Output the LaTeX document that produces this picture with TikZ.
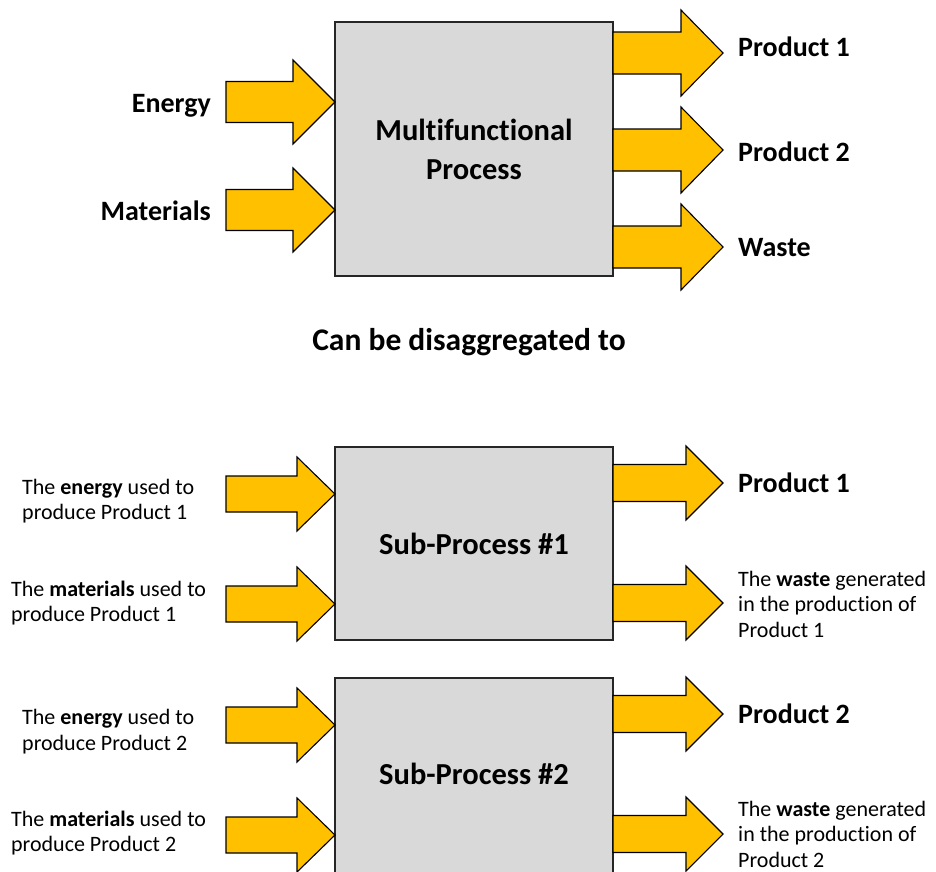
\documentclass[tikz,border=0pt]{standalone}
\usepackage{fontspec}
\setmainfont{Carlito}[Ligatures=CommonOff]
\begin{document}
\begin{tikzpicture}[x=1pt,y=-1pt,
  arr/.style={draw=black,line width=1.1pt,fill=gold,line join=miter},
  procbox/.style={draw=black!85,line width=1.3pt,fill=boxgray,inner sep=0pt,
    align=center,font=\fontsize{30.5}{39}\selectfont\bfseries},
  biglabel/.style={inner sep=0pt,font=\fontsize{28}{34}\selectfont\bfseries},
  smalllabel/.style={inner sep=0pt,align=left,anchor=west,font=\fontsize{22}{25.5}\selectfont}]
\definecolor{gold}{HTML}{FFC000}
\definecolor{boxgray}{HTML}{D9D9D9}
\useasboundingbox (0,0) rectangle (936,871);
\newcommand{\blockarrow}[6]{%
  \draw[arr] (#1,#3-#4) -- (#2-#6,#3-#4) -- (#2-#6,#3-#5) -- (#2,#3)
    -- (#2-#6,#3+#5) -- (#2-#6,#3+#4) -- (#1,#3+#4) -- cycle;}
% ---------- top part ----------
\node[procbox,minimum width=278pt,minimum height=254pt] (mp) at (474,149) {Multifunctional\\Process};
\blockarrow{226}{335}{102}{20.5}{42}{42}
\blockarrow{226}{335}{210}{20.5}{42}{42}
\blockarrow{613}{723}{53}{21}{43}{42}
\blockarrow{613}{723}{150}{21}{43}{42}
\blockarrow{613}{723}{247}{21}{43}{42}
\node[biglabel,anchor=base east] (en) at (211,112) {Energy};
\node[biglabel,anchor=base east] (ma) at (211,220) {Materials};
\node[biglabel,anchor=base west] (p1) at (738,56) {Product 1};
\node[biglabel,anchor=base west] (p2) at (738,161) {Product 2};
\node[biglabel,anchor=base west] (wa) at (738,256) {Waste};
\node[inner sep=0pt,font=\fontsize{31.5}{36}\selectfont\bfseries,anchor=base] (cbd) at (469,350) {Can be disaggregated to};
% ---------- bottom part ----------
\node[procbox,minimum width=278pt,minimum height=193pt] (s1) at (474,543.5) {Sub-Process \#1};
\node[procbox,minimum width=278pt,minimum height=200pt] (s2) at (474,778) {};
\node[inner sep=0pt,font=\fontsize{30.5}{39}\selectfont\bfseries] (s2t) at (474,773.5) {Sub-Process \#2};
\blockarrow{226}{335}{494}{18}{37}{38}
\blockarrow{226}{335}{604}{18}{37}{38}
\blockarrow{226}{335}{725}{18}{37}{38}
\blockarrow{226}{335}{835}{18}{37}{38}
\blockarrow{613}{723}{483}{18.5}{37}{37}
\blockarrow{613}{723}{603}{18.5}{37}{37}
\blockarrow{613}{723}{714}{18.5}{37}{37}
\blockarrow{613}{723}{834}{18.5}{37}{37}
\node[smalllabel] (e1) at (22,501) {The \textbf{energy} used to\\produce Product 1};
\node[smalllabel] (m1) at (11,603) {The \textbf{materials} used to\\produce Product 1};
\node[smalllabel] (e2) at (22,731.5) {The \textbf{energy} used to\\produce Product 2};
\node[smalllabel] (m2) at (11,833) {The \textbf{materials} used to\\produce Product 2};
\node[biglabel,anchor=base west] (bp1) at (738,492) {Product 1};
\node[biglabel,anchor=base west] (bp2) at (738,723) {Product 2};
\node[smalllabel] (w1) at (738,604) {The \textbf{waste} generated\\in the production of\\Product 1};
\node[smalllabel] (w2) at (738,834) {The \textbf{waste} generated\\in the production of\\Product 2};
\end{tikzpicture}
\end{document}
